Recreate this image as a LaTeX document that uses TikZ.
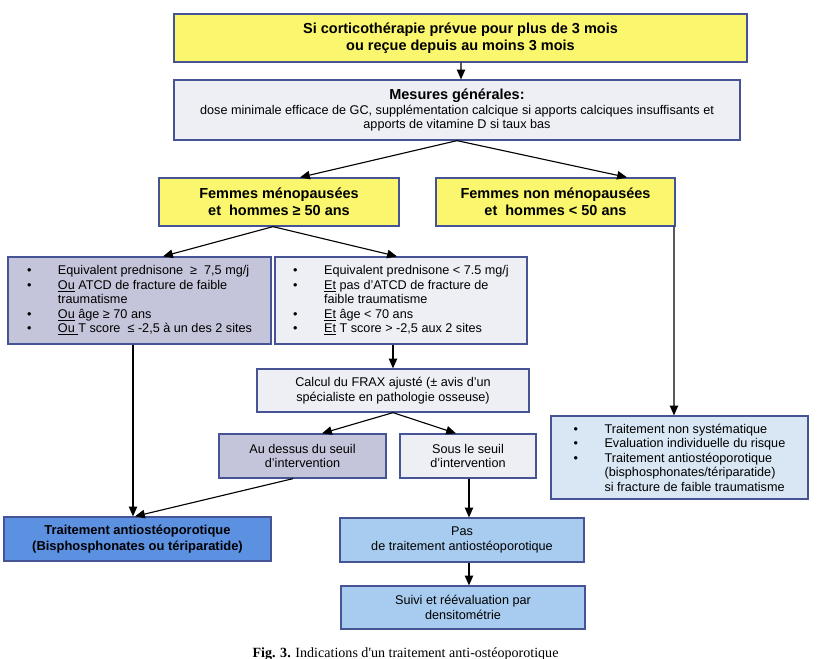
\documentclass[tikz,border=0pt]{standalone}
\usepackage{fontspec}
\setmainfont{Liberation Sans}
\newfontfamily\pie{Liberation Serif}
\usepackage{xcolor}
\usepackage{tikz}
\usetikzlibrary{positioning, arrows.meta, calc}
\definecolor{borde}{RGB}{70,84,150}
\definecolor{amarillo}{RGB}{250,247,110}
\definecolor{grisclaro}{RGB}{238,239,245}
\definecolor{lila}{RGB}{196,196,218}
\definecolor{azul}{RGB}{92,144,224}
\definecolor{celeste}{RGB}{168,204,240}
\definecolor{celesteclaro}{RGB}{217,231,244}
\newcommand{\Vi}[1]{\makebox[22pt][l]{\textbullet}#1}
\newcommand{\Vc}[1]{\makebox[22pt][l]{}#1}
\newcommand{\Sr}[1]{\underline{#1}}
\newcommand{\Tt}{\fontsize{10.3}{12}\selectfont\bfseries}
\tikzset{
  caja/.style={draw=borde, line width=0.9pt, align=center, inner sep=2pt,
    font=\fontsize{9}{10.3}\selectfont},
  amarilla/.style={caja, fill=amarillo, font=\Tt},
  clara/.style={caja, fill=grisclaro},
  lilas/.style={caja, fill=lila},
  azulada/.style={caja, fill=azul, font=\fontsize{9.2}{11}\selectfont\bfseries},
  celestes/.style={caja, fill=celeste},
  lista/.style={caja, fill=celesteclaro, align=left},
  tam/.style 2 args={minimum width=#1*0.025cm, minimum height=#2*0.025cm},
  flecha/.style={-{Triangle[length=7pt,width=6pt]}, line width=0.8pt},
}

\begin{document}
\begin{tikzpicture}[x=0.025cm, y=-0.025cm]
  \useasboundingbox (0,0) rectangle (818,659);
  % Cajas superiores
  \node[amarilla, tam={573}{48}] (inicio) at (460.5,38)
    {Si corticothérapie prévue pour plus de 3 mois\\ou reçue depuis au moins 3 mois};
  \node[clara, tam={566}{60}] (medidas) at (457,110)
    {{\Tt Mesures générales:}\\dose minimale efficace de GC, supplémentation calcique si apports calciques insuffisants et\\apports de vitamine D si taux bas};
  \node[amarilla, tam={240}{48}] (meno) at (279,202)
    {Femmes ménopausées\\et~ hommes ≥ 50 ans};
  \node[amarilla, tam={239}{48}] (nomeno) at (555.5,202)
    {Femmes non ménopausées\\et~ hommes < 50 ans};
  % Criterios
  \node[lilas, tam={263}{87}, align=left] (altoA) at (139.5,300.5)
    {\Vi{Equivalent prednisone~ ≥~ 7,5 mg/j}\\
     \Vi{\Sr{Ou} ATCD de fracture de faible}\\
     \Vc{traumatisme}\\
     \Vi{\Sr{Ou} âge ≥ 70 ans}\\
     \Vi{\Sr{Ou\ }T score~ ≤ -2,5 à un des 2 sites}};
  \node[clara, tam={252}{87}, align=left] (altoB) at (401,300.5)
    {\Vi{Equivalent prednisone < 7.5 mg/j}\\
     \Vi{\Sr{Et} pas d'ATCD de fracture de}\\
     \Vc{faible traumatisme}\\
     \Vi{\Sr{Et} âge < 70 ans}\\
     \Vi{\Sr{Et} T score > -2,5 aux 2 sites}};
  \node[lista, tam={257}{83}] (der) at (679.5,457.5)
    {\Vi{Traitement non systématique}\\
     \Vi{Evaluation individuelle du risque}\\
     \Vi{Traitement antiostéoporotique}\\
     \Vc{(bisphosphonates/tériparatide)}\\
     \Vc{si fracture de faible traumatisme}};
  % FRAX y seuil
  \node[clara, tam={272}{43}] (frax) at (393,390.5)
    {Calcul du FRAX ajusté (± avis d'un\\spécialiste en pathologie osseuse)};
  \node[lilas, tam={167}{44}] (sobre) at (302.5,456)
    {Au dessus du seuil\\d'intervention};
  \node[clara, tam={136}{44}] (bajo) at (468,456)
    {Sous le seuil\\d'intervention};
  % Cajas finales
  \node[azulada, tam={267}{44}] (trat) at (137.5,539)
    {Traitement antiostéoporotique\\(Bisphosphonates ou tériparatide)};
  \node[celestes, tam={244}{44}] (nada) at (462,540)
    {Pas\\de traitement antiostéoporotique};
  \node[celestes, tam={244}{43}] (suivi) at (463,607.5)
    {Suivi et réévaluation par\\densitométrie};
  \node[anchor=base, font=\pie\fontsize{10}{11}\selectfont] (leyenda) at (405.5,657)
    {\textbf{Fig. 3.} Indications d'un traitement anti-ostéoporotique};
  % Flechas
  \draw[flecha] ($(inicio.south)+(0.5,0)$) -- ($(medidas.north)+(4,0)$);
  \draw[flecha] (medidas.south) -- ($(meno.north)+(21,0)$);
  \draw[flecha] (medidas.south) -- ($(nomeno.north)+(71.5,0)$);
  \draw[flecha] ($(meno.south)+(-6,0)$) -- ($(altoA.north)+(23.5,0)$);
  \draw[flecha] ($(meno.south)+(-6,0)$) -- ($(altoB.north)+(-4,0)$);
  \draw[flecha] ($(nomeno.south)+(118.5,0)$) -- ($(der.north)+(-5.5,0)$);
  \draw[flecha] ($(altoA.south)+(-6.5,0)$) -- ($(trat.north)+(-4.5,0)$);
  \draw[flecha] (frax.north |- altoB.south) -- (frax.north);
  \draw[flecha] (frax.south) -- ($(sobre.north)+(19.5,0)$);
  \draw[flecha] (frax.south) -- ($(bajo.north)+(-12,0)$);
  \draw[flecha] ($(sobre.south)+(-9.5,0)$) -- ($(trat.north)+(-2.5,0)$);
  \draw[flecha] ($(bajo.south)+(1,0)$) -- ($(nada.north)+(7,0)$);
  \draw[flecha] ($(nada.south)+(7,0)$) -- ($(suivi.north)+(6,0)$);
\end{tikzpicture}
\end{document}
